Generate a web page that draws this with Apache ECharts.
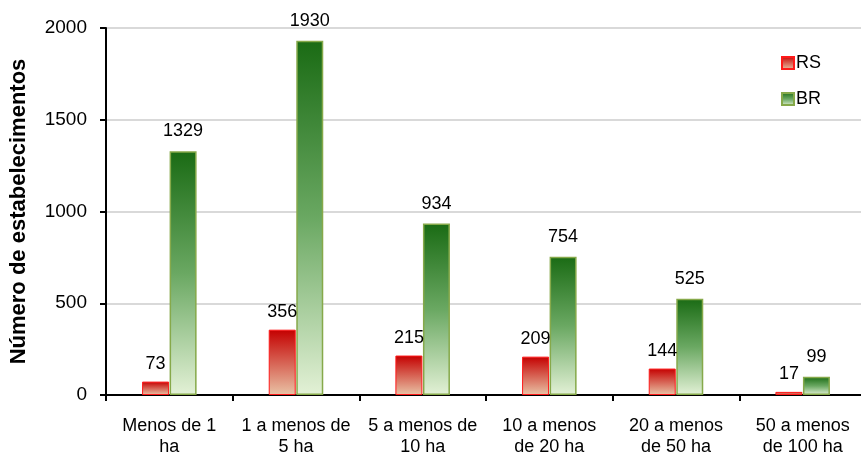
<!DOCTYPE html>
<html>
<head>
<meta charset="utf-8">
<script src="https://cdn.jsdelivr.net/npm/echarts@6/dist/echarts.min.js"></script>
<style>
html,body{margin:0;padding:0;background:#fff;}
#chart{width:861px;height:457px;}
</style>
</head>
<body>
<div id="chart"></div>
<script>
const categories = ['Menos de 1\nha', '1 a menos de\n5 ha', '5 a menos de\n10 ha', '10 a menos\nde 20 ha', '20 a menos\nde 50 ha', '50 a menos\nde 100 ha'];
const rsValues = [73, 356, 215, 209, 144, 17];
const brValues = [1329, 1930, 934, 754, 525, 99];
const yTicks = { min: 0, max: 2000, interval: 500 };

const chart = echarts.init(document.getElementById('chart'));
const font = 'Liberation Sans, Arial, sans-serif';
const redGrad = new echarts.graphic.LinearGradient(0, 0, 0, 1, [
  { offset: 0, color: '#c40000' },
  { offset: 1, color: '#e9c3a6' }
]);
const greenGrad = new echarts.graphic.LinearGradient(0, 0, 0, 1, [
  { offset: 0, color: '#1a6b14' },
  { offset: 0.5, color: '#6aa862' },
  { offset: 1, color: '#e3f1d6' }
]);
chart.setOption({
  animation: false,
  textStyle: { fontFamily: font },
  grid: { left: 106, top: 28, bottom: 62, width: 760, containLabel: false, outerBoundsMode: 'none' },
  legend: {
    orient: 'vertical',
    left: 781,
    top: 54,
    padding: 0,
    itemWidth: 12,
    itemHeight: 12,
    itemGap: 18,
    textStyle: { fontSize: 18, lineHeight: 18, color: '#000', fontFamily: font, padding: [0, 0, 0, -3] },
    data: [
      { name: 'RS', icon: 'rect' },
      { name: 'BR', icon: 'rect' }
    ]
  },
  xAxis: {
    type: 'category',
    data: categories,
    axisLine: { lineStyle: { color: '#000', width: 2 } },
    axisTick: { show: true, length: 6, lineStyle: { color: '#000', width: 2 } },
    axisLabel: { color: '#000', fontSize: 18, lineHeight: 21, margin: 21, fontFamily: font, interval: 0 }
  },
  yAxis: {
    type: 'value',
    min: yTicks.min,
    max: yTicks.max,
    interval: yTicks.interval,
    name: 'Número de estabelecimentos',
    nameLocation: 'middle',
    nameGap: 76,
    nameMoveOverlap: false,
    nameTextStyle: { fontSize: 22, fontWeight: 'bold', color: '#000', fontFamily: font },
    axisLine: { show: true, lineStyle: { color: '#000', width: 2 } },
    axisTick: { show: true, length: 6, lineStyle: { color: '#000', width: 2 } },
    axisLabel: { color: '#000', fontSize: 19, margin: 19, fontFamily: font, formatter: v => String(v) },
    splitLine: { lineStyle: { color: '#d9d9d9', width: 2 } }
  },
  series: [
    {
      name: 'RS',
      type: 'bar',
      data: rsValues,
      barWidth: 27,
      barGap: '2%',
      itemStyle: { color: redGrad, borderColor: '#ff1a1a', borderWidth: 1 },
      label: { show: true, position: 'top', distance: 9, color: '#000', fontSize: 18, fontFamily: font }
    },
    {
      name: 'BR',
      type: 'bar',
      data: brValues,
      barWidth: 27,
      itemStyle: { color: greenGrad, borderColor: '#86a94a', borderWidth: 1.5 },
      label: { show: true, position: 'top', distance: 11, color: '#000', fontSize: 18, fontFamily: font }
    }
  ]
});
</script>
</body>
</html>
